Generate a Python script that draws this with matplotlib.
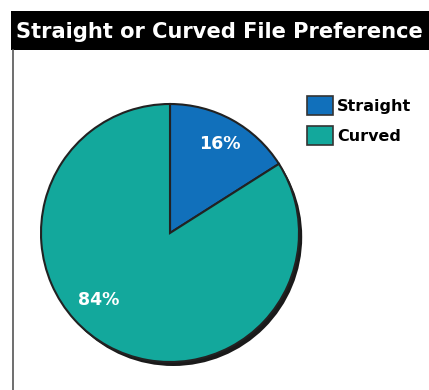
import matplotlib
matplotlib.use("Agg")
import matplotlib.pyplot as plt
from matplotlib.patches import Rectangle, Circle, Patch
import numpy as np

title = "Straight or Curved File Preference"
categories = ["Straight", "Curved"]
values = [16, 84]
colors = ["#1170BB", "#13A89C"]

W, H = 429, 390
fig = plt.figure(figsize=(W / 100, H / 100), dpi=100)
fig.patch.set_facecolor("white")

def px(x, y):
    return x / W, 1 - y / H

# Title bar
bar = Rectangle(px(11, 50), (W - 11) / W, 39 / H, transform=fig.transFigure,
                facecolor="black", edgecolor="none")
fig.patches.append(bar)
fig.text(*px(16, 32), title, color="white", fontsize=15.1, fontweight="bold",
         family="DejaVu Sans", va="center", ha="left")

# Left rule
fig.add_artist(plt.Line2D([12.5 / W, 12.5 / W], [0, 1 - 50 / H],
                          transform=fig.transFigure, color="#555555", lw=1.2))

# Pie axes
cx, cy, r = 170, 233, 129
ax = fig.add_axes([(cx - r) / W, 1 - (cy + r) / H, 2 * r / W, 2 * r / H])

# Drop shadow
off = 4 / r
ax.add_patch(Circle((off * 0.8, -off), 1.0, facecolor="#1a1a1a", edgecolor="none",
                    zorder=0, clip_on=False))

wedges, _ = ax.pie(values, colors=colors, startangle=90, counterclock=False,
                   radius=1.0, center=(0, 0),
                   wedgeprops=dict(edgecolor="#222222", linewidth=1.5),
                   frame=True)
ax.set_xlim(-1, 1)
ax.set_ylim(-1, 1)
ax.set_aspect("equal")
ax.axis("off")
for w in wedges:
    w.set_zorder(1)
    w.set_clip_on(False)

# Percent labels (angle in degrees, distance as fraction of radius)
label_pos = [(61, 0.79), (223, 0.76)]
for v, (ang, d) in zip(values, label_pos):
    a = np.deg2rad(ang)
    ax.text(d * np.cos(a), d * np.sin(a), f"{v}%", color="white",
            fontsize=12.5, fontweight="bold", family="DejaVu Sans",
            ha="center", va="center", zorder=3)

# Legend
handles = [Patch(facecolor=c, edgecolor="#333333", linewidth=1.2) for c in colors]
leg = fig.legend(handles, categories, loc="upper left",
                 bbox_to_anchor=px(307, 96), frameon=False,
                 prop=dict(family="DejaVu Sans", weight="bold", size=11.5),
                 handlelength=1.6, handleheight=1.5, handletextpad=0.3,
                 labelspacing=0.65, borderaxespad=0, borderpad=0)

fig.savefig("out.png", dpi=100)
